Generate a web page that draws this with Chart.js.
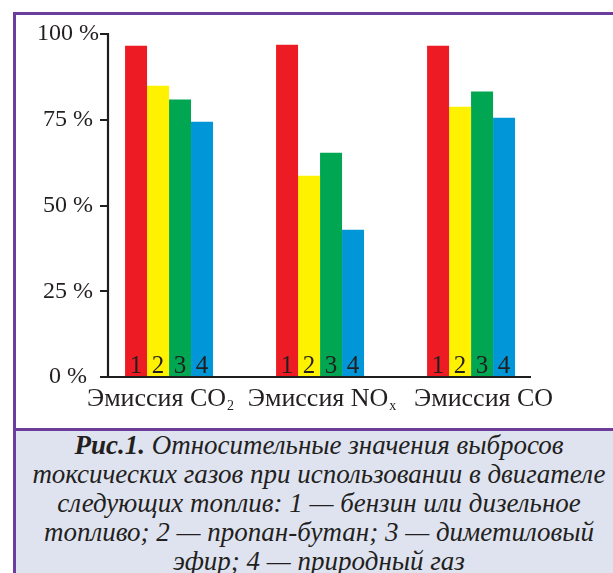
<!DOCTYPE html>
<html>
<head>
<meta charset="utf-8">
<script src="https://cdn.jsdelivr.net/npm/chart.js@4.4.1/dist/chart.umd.min.js"></script>
<style>
  html, body { margin: 0; padding: 0; }
  body { width: 613px; height: 573px; position: relative; overflow: hidden; background: #ffffff; }
  #frame { position: absolute; left: 13px; top: 12px; width: 640px; height: 416px; z-index: 1;
           border-left: 3px solid #6c3d9b; border-top: 3px solid #6c3d9b; box-sizing: border-box; }
  #capbox { position: absolute; left: 13px; top: 428px; width: 640px; height: 145px; background: #dfe3f0; z-index: 1;
            border-left: 3px solid #6c3d9b; border-top: 3px solid #6c3d9b; box-sizing: border-box; }
  #caption { position: absolute; left: 25px; width: 588px; top: 431px; height: 142px; overflow: hidden; z-index: 2;
             text-align: center; font-family: 'Liberation Serif', serif; font-style: italic; font-size: 27px;
             line-height: 29px; color: #231f20; white-space: nowrap; }
  #caption b { font-weight: bold; }
  #wrap { position: absolute; left: 0; top: 0; width: 613px; height: 428px; z-index: 5; }
</style>
</head>
<body>
<div id="frame"></div>
<div id="capbox"></div>
<div id="caption"><b>Рис.1.</b> Относительные значения выбросов<br>токсических газов при использовании в двигателе<br>следующих топлив: 1 — бензин или дизельное<br>топливо; 2 — пропан-бутан; 3 — диметиловый<br>эфир; 4 — природный газ</div>
<div id="wrap"><canvas id="c" width="613" height="428"></canvas></div>
<script>
// ---- data ----
const categoryBase = ['Эмиссия CO', 'Эмиссия NO', 'Эмиссия CO'];
const categorySub  = ['2', 'x', ''];
const categoryIndex = [0, 1, 2];
const fuelNumbers = ['1', '2', '3', '4'];
const fuel1 = [96.6, 96.9, 96.6];   // бензин или дизельное топливо
const fuel2 = [84.9, 58.7, 78.8];   // пропан-бутан
const fuel3 = [80.9, 65.4, 83.2];   // диметиловый эфир
const fuel4 = [74.4, 42.9, 75.6];   // природный газ
const yTicks = [0, 25, 50, 75, 100];

const colors = ['#ed1c24', '#fff200', '#00a651', '#0096d8'];
const series = [fuel1, fuel2, fuel3, fuel4];

const FONT = "'Liberation Serif', 'Times New Roman', serif";
const AXIS_COLOR = '#1e1e1e';
Chart.defaults.font.family = FONT;

const datasets = series.map((vals, i) => ({
  label: fuelNumbers[i],
  data: vals.map((v, j) => ({ x: categoryIndex[j], y: v })),
  backgroundColor: colors[i],
  borderWidth: 0,
  barPercentage: 1.0,
  categoryPercentage: 0.5825
}));

// y axis line and tick marks, positioned by the y scale (drawn last)
const yAxisLine = {
  id: 'yAxisLine',
  afterDraw(chart) {
    const ctx = chart.ctx;
    const ys = chart.scales.y;
    const left = Math.round(chart.chartArea.left);
    ctx.save();
    ctx.strokeStyle = AXIS_COLOR;
    ctx.lineWidth = 2.2;
    ctx.beginPath();
    ctx.moveTo(left, Math.round(ys.getPixelForValue(ys.max)) - 1);
    ctx.lineTo(left, Math.round(ys.getPixelForValue(ys.min)) + 1);
    yTicks.forEach(v => {
      const py = Math.round(ys.getPixelForValue(v));
      ctx.moveTo(left - 8, py);
      ctx.lineTo(left, py);
    });
    ctx.stroke();
    ctx.restore();
  }
};

const barNumbers = {
  id: 'barNumbers',
  afterDatasetsDraw(chart) {
    const ctx = chart.ctx;
    const base = chart.scales.y.getPixelForValue(0);
    ctx.save();
    ctx.font = "25px " + FONT;
    ctx.fillStyle = '#231f20';
    ctx.textAlign = 'center';
    ctx.textBaseline = 'alphabetic';
    chart.data.datasets.forEach((ds, i) => {
      chart.getDatasetMeta(i).data.forEach(el => {
        ctx.fillText(ds.label, el.x, base - 4);
      });
    });
    ctx.restore();
  }
};

const catLabels = {
  id: 'catLabels',
  afterDraw(chart) {
    const ctx = chart.ctx;
    const sc = chart.scales.x2;
    const y = chart.chartArea.bottom + 28.5;
    ctx.save();
    ctx.fillStyle = '#231f20';
    ctx.textBaseline = 'alphabetic';
    ctx.textAlign = 'left';
    categoryBase.forEach((t, j) => {
      const cx = sc.getPixelForValue(categoryIndex[j]);
      ctx.font = "26px " + FONT;
      const w1 = ctx.measureText(t).width;
      ctx.font = "14px " + FONT;
      const w2 = categorySub[j] ? ctx.measureText(categorySub[j]).width + 1 : 0;
      const x0 = cx - (w1 + w2) / 2;
      ctx.font = "26px " + FONT;
      ctx.fillText(t, x0, y);
      if (categorySub[j]) {
        ctx.font = "14px " + FONT;
        ctx.fillText(categorySub[j], x0 + w1 + 1, y + 4);
      }
    });
    ctx.restore();
  }
};

new Chart(document.getElementById('c'), {
  type: 'bar',
  data: { datasets },
  plugins: [yAxisLine, barNumbers, catLabels],
  options: {
    responsive: false,
    devicePixelRatio: 1,
    animation: false,
    layout: { padding: { top: 34, right: 83, left: 0, bottom: 0 } },
    plugins: { legend: { display: false }, tooltip: { enabled: false } },
    scales: {
      x: {
        type: 'linear',
        offset: false,
        min: -0.4042,
        max: 2.3903,
        afterBuildTicks(scale) { scale.ticks = categoryIndex.map(v => ({ value: v })); },
        afterFit(scale) { scale.height = 51; },
        ticks: { display: false },
        grid: { display: false },
        border: { display: true, color: AXIS_COLOR, width: 2 }
      },
      x2: {
        type: 'linear',
        position: 'bottom',
        offset: false,
        display: false,
        min: -0.3253,
        max: 2.2875
      },
      y: {
        min: 0,
        max: 100,
        afterBuildTicks(scale) { scale.ticks = yTicks.map(v => ({ value: v })); },
        afterFit(scale) { scale.width = 108; },
        ticks: {
          callback: v => v + ' %',
          font: { size: 24, family: FONT },
          color: '#231f20',
          crossAlign: 'center',
          padding: 1
        },
        grid: { display: true, drawOnChartArea: false, drawTicks: true, tickLength: 8, color: AXIS_COLOR, lineWidth: 2 },
        border: { display: true, color: AXIS_COLOR, width: 2 }
      }
    }
  }
});
</script>
</body>
</html>
